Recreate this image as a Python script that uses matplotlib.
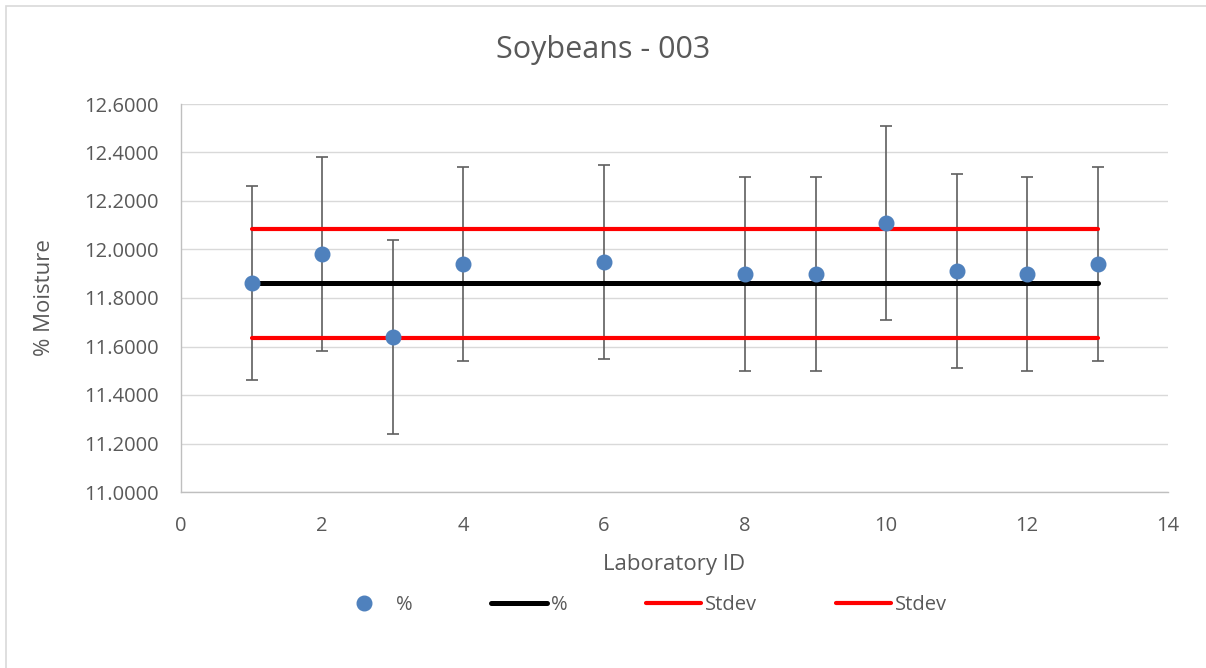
import matplotlib
matplotlib.use("Agg")
import matplotlib.pyplot as plt
from matplotlib.patches import Rectangle
from matplotlib.ticker import FormatStrFormatter

# Data
lab_id = [1, 2, 3, 4, 6, 8, 9, 10, 11, 12, 13]
moisture = [11.86, 11.98, 11.64, 11.94, 11.95, 11.90, 11.90, 12.11, 11.91, 11.90, 11.94]
err = [0.4] * len(lab_id)
mean_x = [1, 13]
mean_y = [11.86, 11.86]
stdev_hi = [12.083, 12.083]
stdev_lo = [11.637, 11.637]

grey = '#595959'
plt.rcParams['font.family'] = ['Open Sans', 'DejaVu Sans']

fig = plt.figure(figsize=(12.06, 6.68), dpi=100)
ax = fig.add_axes([181 / 1206, 1 - 492 / 668, (1168 - 181) / 1206, (492 - 104) / 668])

# chart border (only left/top edges visible)
fig.add_artist(Rectangle((6 / 1206, -0.1), 1.2, 1.1 - 6 / 668, transform=fig.transFigure,
                         fill=False, edgecolor='#D9D9D9', linewidth=1.2))

ax.errorbar(lab_id, moisture, yerr=err, fmt='none', ecolor='#5F5F5F', elinewidth=1.2,
            capsize=4, capthick=1.2, zorder=2)
ax.plot(mean_x, mean_y, color='black', linewidth=3.6, solid_capstyle='round', label='%', zorder=3)
ax.plot(mean_x, stdev_hi, color='#FF0000', linewidth=3.0, solid_capstyle='round', label='Stdev', zorder=3)
ax.plot(mean_x, stdev_lo, color='#FF0000', linewidth=3.0, solid_capstyle='round', label='Stdev', zorder=3)
ax.plot(lab_id, moisture, linestyle='none', marker='o', markersize=10.5, color='#4F81BD',
        label='%', zorder=4)

ax.set_xlim(0, 14)
ax.set_ylim(11.0, 12.6)
ax.set_xticks(range(0, 15, 2))
ax.set_yticks([11.0 + 0.2 * i for i in range(9)])
ax.yaxis.set_major_formatter(FormatStrFormatter('%.4f'))
ax.grid(axis='y', color='#D9D9D9', linewidth=1.0)
ax.set_axisbelow(True)

for s in ['top', 'right']:
    ax.spines[s].set_visible(False)
for s in ['left', 'bottom']:
    ax.spines[s].set_color('#BFBFBF')
    ax.spines[s].set_linewidth(1.0)
ax.tick_params(axis='y', length=0, pad=16, labelsize=14.5, labelcolor=grey)
ax.tick_params(axis='x', length=0, pad=17, labelsize=14.5, labelcolor=grey)

ax.set_xlabel('Laboratory ID', fontsize=16, color=grey)
ax.set_ylabel('% Moisture', fontsize=16, color=grey)
ax.xaxis.set_label_coords(0.5, -0.16)
ax.yaxis.set_label_coords(-0.128, 0.5)

fig.text(0.5, 1 - 50 / 668, 'Soybeans - 003', ha='center', va='center', fontsize=22, color=grey)

h, l = ax.get_legend_handles_labels()
order = [3, 0, 1, 2]
leg = fig.legend([h[i] for i in order], [l[i] for i in order], loc='center',
                 bbox_to_anchor=(642 / 1206, 1 - 605 / 668), ncol=4, frameon=False,
                 fontsize=14.5, handlelength=2.75, handletextpad=0.2, columnspacing=3.9)
for t in leg.get_texts():
    t.set_color(grey)

fig.savefig('out.png', dpi=100)
